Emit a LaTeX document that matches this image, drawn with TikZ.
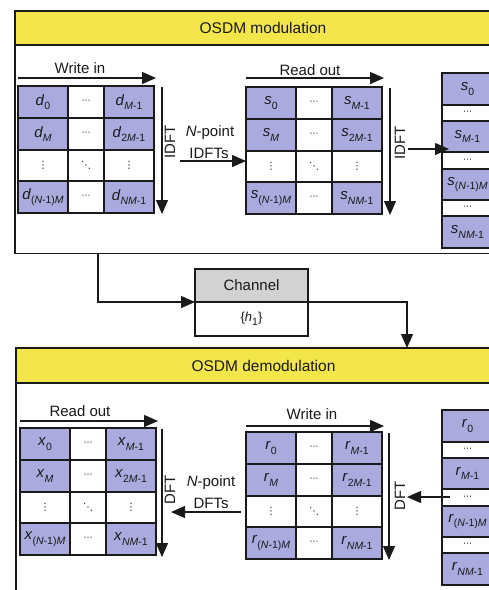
\documentclass[tikz,border=0pt]{standalone}
\usepackage{fontspec}
\setmainfont{Liberation Sans}
\newfontfamily\symfont{DejaVu Sans}
\usetikzlibrary{arrows.meta}

\definecolor{lav}{HTML}{AAAADF}
\definecolor{ban}{HTML}{F2E64B}
\definecolor{hdr}{HTML}{D2D2D2}
\definecolor{ink}{HTML}{1A1A1A}

\tikzset{
  every node/.style={font=\fontsize{15}{17}\selectfont, text=ink},
  grid/.style={draw=ink, line width=1.6pt, inner sep=0pt, outer sep=0pt},
  full/.style={grid, fill=lav},
  empty/.style={grid, fill=white},
  frame/.style={draw=ink, line width=1.2pt, inner sep=0pt, outer sep=0pt},
  band/.style={frame, fill=ban, font=\fontsize{15.5}{17}\selectfont},
  boxhead/.style={frame, fill=hdr},
  boxbody/.style={frame, fill=white, font=\fontsize{13}{15}\selectfont},
  flow/.style={draw=ink, line width=1.2pt, -{Triangle[length=14pt,width=12pt]}},
  lbl/.style={inner sep=0pt},
}

% subscript and variable helpers
\newcommand\lsub[1]{\raisebox{-0.3em}{\fontsize{10.5}{11}\selectfont #1}}
\newcommand\vv[2]{\textit{#1}\lsub{#2}}
\newcommand\hdt{{\symfont\fontsize{9}{9}\selectfont ⋯}}
\newcommand\vdt{{\symfont\fontsize{10}{10}\selectfont ⋮}}
\newcommand\ddt{{\symfont\fontsize{10}{10}\selectfont ⋱}}

% rectangular node from corner coordinates: name, style, x1, y1, x2, y2, text
\newcommand\cellbox[7]{%
  \node[#2, minimum width={(#5)-(#3)}, minimum height={(#6)-(#4)}]
    (#1) at ({((#3)+(#5))/2},{((#4)+(#6))/2}) {#7};}

% 4x3 data grid: prefix, symbol, left, top
\newcommand\datagrid[4]{%
  \cellbox{#1a1}{full}{#3}{#4}{#3+50}{#4+32}{\vv{#2}{0}}%
  \cellbox{#1a2}{empty}{#3+50}{#4}{#3+86}{#4+32}{\hdt}%
  \cellbox{#1a3}{full}{#3+86}{#4}{#3+136}{#4+32}{\vv{#2}{\textit{M}-1}}%
  \cellbox{#1b1}{full}{#3}{#4+32}{#3+50}{#4+64}{\vv{#2}{\textit{M}}}%
  \cellbox{#1b2}{empty}{#3+50}{#4+32}{#3+86}{#4+64}{\hdt}%
  \cellbox{#1b3}{full}{#3+86}{#4+32}{#3+136}{#4+64}{\vv{#2}{2\textit{M}-1}}%
  \cellbox{#1c1}{empty}{#3}{#4+64}{#3+50}{#4+95}{\vdt}%
  \cellbox{#1c2}{empty}{#3+50}{#4+64}{#3+86}{#4+95}{\ddt}%
  \cellbox{#1c3}{empty}{#3+86}{#4+64}{#3+136}{#4+95}{\vdt}%
  \cellbox{#1d1}{full}{#3}{#4+95}{#3+50}{#4+127}{\vv{#2}{(\textit{N}-1)\textit{M}}}%
  \cellbox{#1d2}{empty}{#3+50}{#4+95}{#3+86}{#4+127}{\hdt}%
  \cellbox{#1d3}{full}{#3+86}{#4+95}{#3+136}{#4+127}{\vv{#2}{\textit{NM}-1}}%
}

% serialised column: prefix, symbol, left, top
\newcommand\stackvec[4]{%
  \cellbox{#1v1}{full}{#3}{#4}{#3+51}{#4+32}{\vv{#2}{0}}%
  \cellbox{#1v2}{empty}{#3}{#4+32}{#3+51}{#4+48}{\hdt}%
  \cellbox{#1v3}{full}{#3}{#4+48}{#3+51}{#4+79}{\vv{#2}{\textit{M}-1}}%
  \cellbox{#1v4}{empty}{#3}{#4+79}{#3+51}{#4+96}{\hdt}%
  \cellbox{#1v5}{full}{#3}{#4+96}{#3+51}{#4+127}{\vv{#2}{(\textit{N}-1)\textit{M}}}%
  \cellbox{#1v6}{empty}{#3}{#4+127}{#3+51}{#4+143}{\hdt}%
  \cellbox{#1v7}{full}{#3}{#4+143}{#3+51}{#4+175}{\vv{#2}{\textit{NM}-1}}%
}

\begin{document}
\begin{tikzpicture}[x=1pt,y=-1pt]
\useasboundingbox (0,0) rectangle (489,590);
\clip (0,0) rectangle (489,590);
\fill[white] (0,0) rectangle (489,590);

% ---------------- modulation panel ----------------
\cellbox{modframe}{frame}{15}{11}{511}{253.5}{}
\cellbox{modband}{band}{15}{11}{511}{45}{OSDM modulation}

\datagrid{d}{d}{18}{86}
\datagrid{s}{s}{246}{87}
\stackvec{s}{s}{442}{73}

% write-in direction
\coordinate (wiA) at (18,78);
\coordinate (wiB) at (156,78);
\draw[flow] (wiA) -- (wiB);
\node[lbl] (wiT) at (80,68) {Write in};

% column IDFT direction
\coordinate (ifA) at (162,87);
\coordinate (ifB) at (162,214);
\draw[flow] (ifA) -- (ifB);
\node[lbl, rotate=90] (ifT) at (170,142) {IDFT};

% N-point IDFTs
\node[lbl] (npA) at (210,133) {\textit{N}-point};
\node[lbl] (npB) at (209,153) {IDFTs};
\coordinate (npS) at (180,161);
\draw[flow] (npS) -- (sc1.west |- npS);

% read-out direction
\coordinate (roA) at (246,78);
\coordinate (roB) at (384,78);
\draw[flow] (roA) -- (roB);
\node[lbl] (roT) at (310,70) {Read out};

% row IDFT
\coordinate (rfA) at (390,88);
\coordinate (rfB) at (390,215);
\draw[flow] (rfA) -- (rfB);
\node[lbl, rotate=90] (rfT) at (400,143) {IDFT};
\coordinate (rfS) at (408,149);
\coordinate (rfE) at (449,149);
\draw[flow] (rfS) -- (rfE);

% ---------------- channel ----------------
\cellbox{chhead}{boxhead}{195}{269}{308}{302}{Channel}
\cellbox{chbody}{boxbody}{195}{302}{308}{336}{\{\vv{h}{1}\}}

\coordinate (tap) at (98,253.5);
\draw[flow] (tap) |- (chhead.south west);
\coordinate (drop) at (407,348);
\draw[flow] (chhead.south east) -| (drop);

% ---------------- demodulation panel ----------------
\cellbox{demframe}{frame}{16}{348}{511}{620}{}
\cellbox{demband}{band}{16}{348}{511}{383}{OSDM demodulation}

\datagrid{x}{x}{20}{428}
\datagrid{r}{r}{246}{432}
\stackvec{r}{r}{442}{410}

% read-out direction
\coordinate (ro2A) at (20,421);
\coordinate (ro2B) at (158,421);
\draw[flow] (ro2A) -- (ro2B);
\node[lbl] (ro2T) at (80,411) {Read out};

% column DFT
\coordinate (dfA) at (162,429);
\coordinate (dfB) at (162,557);
\draw[flow] (dfA) -- (dfB);
\node[lbl, rotate=90] (dfT) at (170,490) {DFT};

% N-point DFTs
\node[lbl] (dpA) at (211,483) {\textit{N}-point};
\node[lbl] (dpB) at (211,503) {DFTs};
\coordinate (dpS) at (241,512);
\coordinate (dpE) at (171,512);
\draw[flow] (dpS) -- (dpE);

% write-in direction
\coordinate (wi2A) at (246,426);
\coordinate (wi2B) at (384,426);
\draw[flow] (wi2A) -- (wi2B);
\node[lbl] (wi2T) at (312,414) {Write in};

% row DFT
\coordinate (rdA) at (389,433);
\coordinate (rdB) at (389,560);
\draw[flow] (rdA) -- (rdB);
\node[lbl, rotate=90] (rdT) at (400,496) {DFT};
\coordinate (rdS) at (450,497);
\coordinate (rdE) at (407,497);
\draw[flow] (rdS) -- (rdE);

\end{tikzpicture}
\end{document}
